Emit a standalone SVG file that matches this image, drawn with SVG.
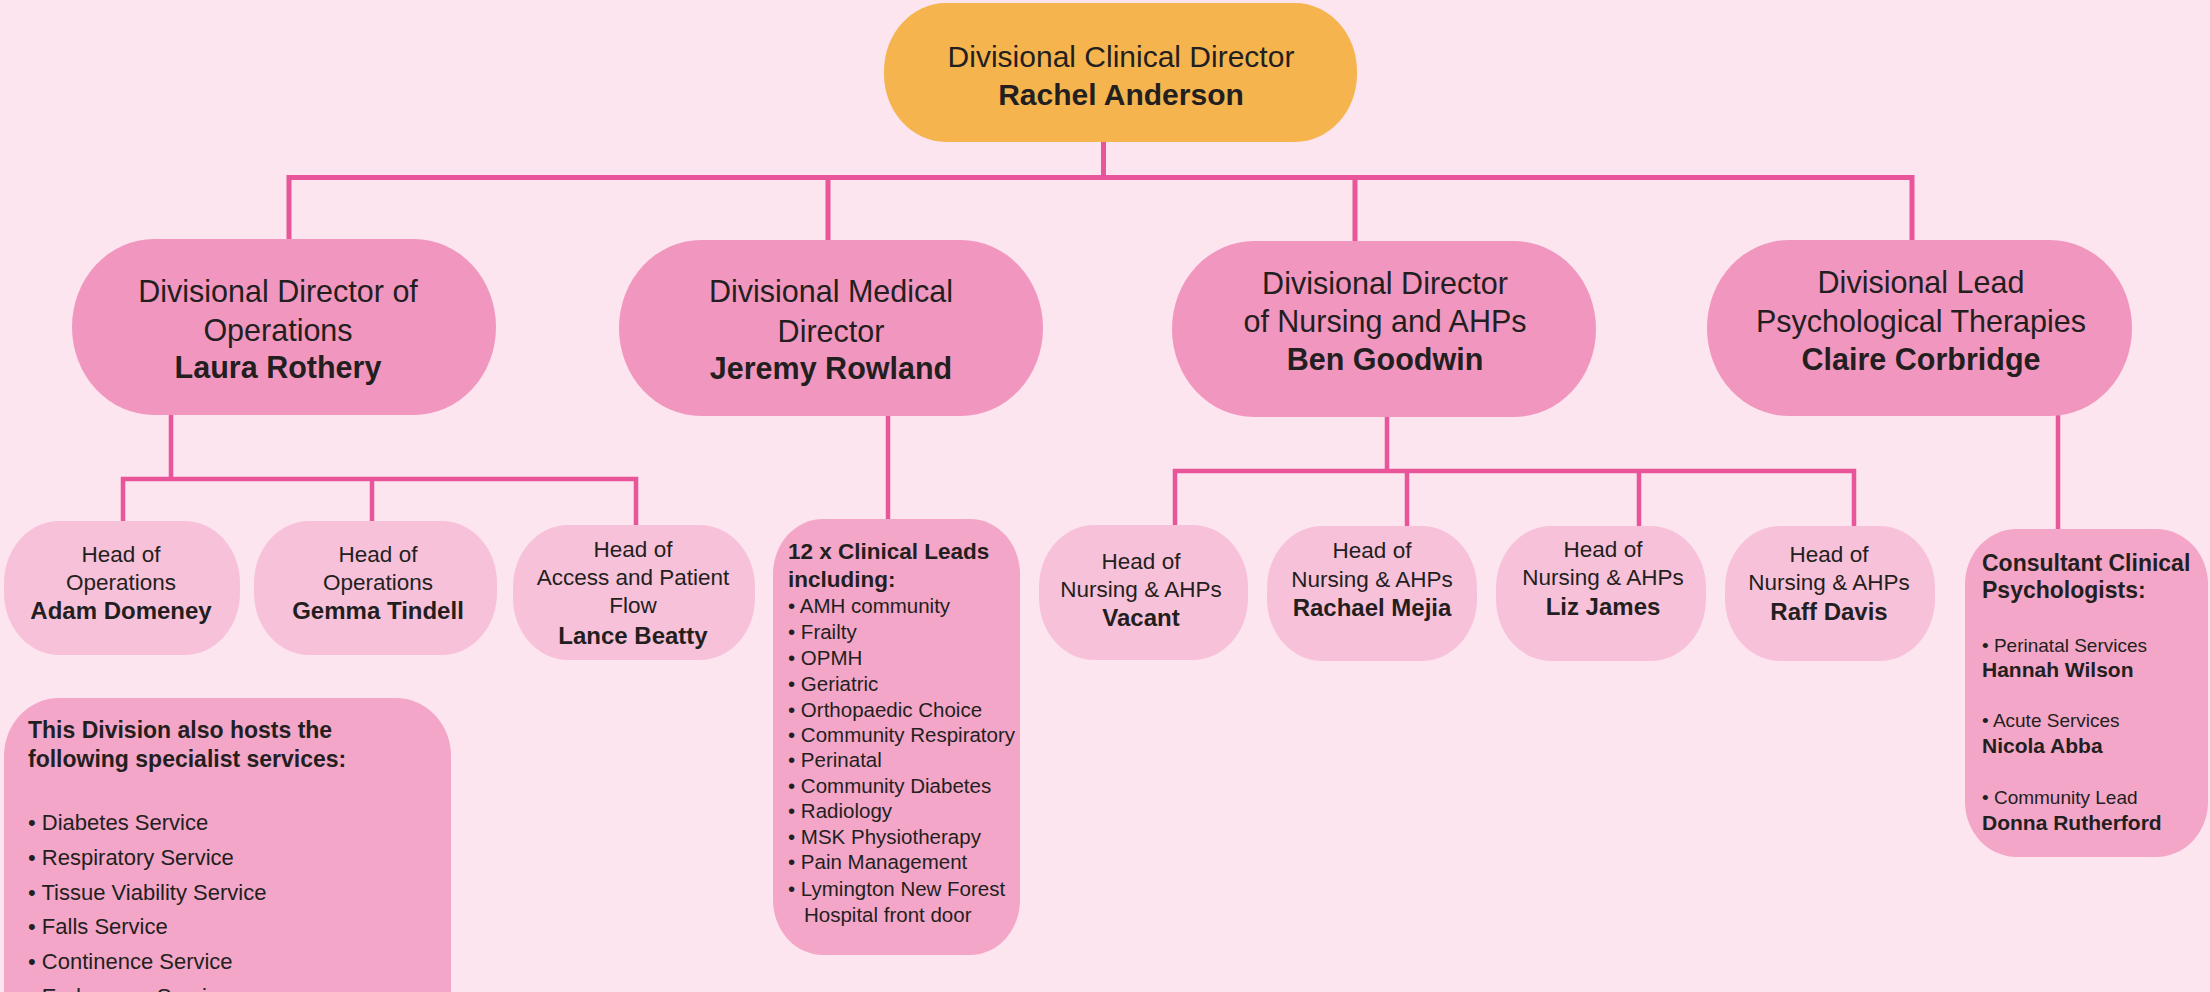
<svg xmlns="http://www.w3.org/2000/svg" width="2210" height="992" viewBox="0 0 2210 992">
<style>
text{font-family:"Liberation Sans",Arial,sans-serif;fill:#231f20}
.c{text-anchor:middle}
.b{font-weight:bold}
.t{font-size:30px}
.l2{font-size:30.5px}
.s{font-size:22.5px}
.sb{font-size:24px;font-weight:bold}
.li{font-size:20.5px}
.lh{font-size:22.5px;font-weight:bold}
.sp{font-size:22px}
.spb{font-size:23px;font-weight:bold}
.cb{font-size:19px}
.cn{font-size:21px;font-weight:bold}
.top{fill:#f5b44e}
.mid{fill:#f196bf}
.small{fill:#f8c1da}
.list{fill:#f3a6c8}
.conn{stroke:#e8559a;stroke-width:4.5;fill:none;stroke-linecap:square}
</style>
<rect x="0" y="0" width="2210" height="992" fill="#fce5ef"/>
<g id="connectors">
<path class="conn" style="stroke-width:5" d="M1103.5 142V177.5M289 177.5H1912M289 177.5V240M828 177.5V240M1355 177.5V241M1912 177.5V240"/>
<path class="conn" d="M171 415V479M123 479H636M123 479V521M372 479V521M636 479V525"/>
<path class="conn" d="M888 416V519"/>
<path class="conn" d="M1387 417V471M1175 471H1854M1175 471V525M1407 471V526M1639 471V526M1854 471V526"/>
<path class="conn" d="M2058 416V529"/>
</g>
<g id="n-rachel">
<rect class="top" x="884" y="3" width="473" height="139" rx="62" ry="68"/>
<text class="t c" x="1121" y="67">Divisional Clinical Director</text>
<text class="t c b" x="1121" y="105">Rachel Anderson</text>
</g>
<g id="n-laura">
<rect class="mid" x="72" y="239" width="424" height="176" rx="82" ry="88"/>
<text class="l2 c" x="278" y="302">Divisional Director of</text>
<text class="l2 c" x="278" y="341">Operations</text>
<text class="l2 c b" x="278" y="378">Laura Rothery</text>
</g>
<g id="n-jeremy">
<rect class="mid" x="619" y="240" width="424" height="176" rx="82" ry="88"/>
<text class="l2 c" x="831" y="302">Divisional Medical</text>
<text class="l2 c" x="831" y="342">Director</text>
<text class="l2 c b" x="831" y="379">Jeremy Rowland</text>
</g>
<g id="n-ben">
<rect class="mid" x="1172" y="241" width="424" height="176" rx="82" ry="88"/>
<text class="l2 c" x="1385" y="294">Divisional Director</text>
<text class="l2 c" x="1385" y="332">of Nursing and AHPs</text>
<text class="l2 c b" x="1385" y="370">Ben Goodwin</text>
</g>
<g id="n-claire">
<rect class="mid" x="1707" y="240" width="425" height="176" rx="82" ry="88"/>
<text class="l2 c" x="1921" y="293">Divisional Lead</text>
<text class="l2 c" x="1921" y="332">Psychological Therapies</text>
<text class="l2 c b" x="1921" y="370">Claire Corbridge</text>
</g>
<g id="n-adam">
<rect class="small" x="4" y="521" width="236" height="134" rx="55" ry="62"/>
<text class="s c" x="121" y="562">Head of</text>
<text class="s c" x="121" y="590">Operations</text>
<text class="sb c" x="121" y="619">Adam Domeney</text>
</g>
<g id="n-gemma">
<rect class="small" x="254" y="521" width="243" height="134" rx="55" ry="62"/>
<text class="s c" x="378" y="562">Head of</text>
<text class="s c" x="378" y="590">Operations</text>
<text class="sb c" x="378" y="619">Gemma Tindell</text>
</g>
<g id="n-lance">
<rect class="small" x="513" y="525" width="242" height="135" rx="55" ry="62"/>
<text class="s c" x="633" y="557">Head of</text>
<text class="s c" x="633" y="585">Access and Patient</text>
<text class="s c" x="633" y="613">Flow</text>
<text class="sb c" x="633" y="644">Lance Beatty</text>
</g>
<g id="n-specialist">
<rect class="list" x="4" y="698" width="447" height="360" rx="55" ry="58"/>
<text class="spb" x="28" y="738">This Division also hosts the</text>
<text class="spb" x="28" y="767">following specialist services:</text>
<text class="sp" x="28" y="830">• Diabetes Service</text>
<text class="sp" x="28" y="865">• Respiratory Service</text>
<text class="sp" x="28" y="900">• Tissue Viability Service</text>
<text class="sp" x="28" y="934">• Falls Service</text>
<text class="sp" x="28" y="969">• Continence Service</text>
<text class="sp" x="28" y="1004">• Endoscopy Service</text>
</g>
<g id="n-clinical-leads">
<rect class="list" x="773" y="519" width="247" height="436" rx="50" ry="55"/>
<text class="lh" x="788" y="559">12 x Clinical Leads</text>
<text class="lh" x="788" y="587">including:</text>
<text class="li" x="788" y="613">• AMH community</text>
<text class="li" x="788" y="639">• Frailty</text>
<text class="li" x="788" y="665">• OPMH</text>
<text class="li" x="788" y="691">• Geriatric</text>
<text class="li" x="788" y="717">• Orthopaedic Choice</text>
<text class="li" x="788" y="742">• Community Respiratory</text>
<text class="li" x="788" y="767">• Perinatal</text>
<text class="li" x="788" y="793">• Community Diabetes</text>
<text class="li" x="788" y="818">• Radiology</text>
<text class="li" x="788" y="844">• MSK Physiotherapy</text>
<text class="li" x="788" y="869">• Pain Management</text>
<text class="li" x="788" y="896">• Lymington New Forest</text>
<text class="li" x="804" y="922">Hospital front door</text>
</g>
<g id="n-vacant">
<rect class="small" x="1039" y="525" width="209" height="135" rx="55" ry="62"/>
<text class="s c" x="1141" y="569">Head of</text>
<text class="s c" x="1141" y="597">Nursing &amp; AHPs</text>
<text class="sb c" x="1141" y="626">Vacant</text>
</g>
<g id="n-rachael">
<rect class="small" x="1267" y="526" width="210" height="135" rx="55" ry="62"/>
<text class="s c" x="1372" y="558">Head of</text>
<text class="s c" x="1372" y="587">Nursing &amp; AHPs</text>
<text class="sb c" x="1372" y="616">Rachael Mejia</text>
</g>
<g id="n-liz">
<rect class="small" x="1496" y="526" width="210" height="135" rx="55" ry="62"/>
<text class="s c" x="1603" y="557">Head of</text>
<text class="s c" x="1603" y="585">Nursing &amp; AHPs</text>
<text class="sb c" x="1603" y="615">Liz James</text>
</g>
<g id="n-raff">
<rect class="small" x="1725" y="526" width="210" height="135" rx="55" ry="62"/>
<text class="s c" x="1829" y="562">Head of</text>
<text class="s c" x="1829" y="590">Nursing &amp; AHPs</text>
<text class="sb c" x="1829" y="620">Raff Davis</text>
</g>
<g id="n-consultant">
<rect class="list" x="1965" y="529" width="243" height="328" rx="52" ry="55"/>
<text class="spb" x="1982" y="571">Consultant Clinical</text>
<text class="spb" x="1982" y="598">Psychologists:</text>
<text class="cb" x="1982" y="652">• Perinatal Services</text>
<text class="cn" x="1982" y="677">Hannah Wilson</text>
<text class="cb" x="1982" y="727">• Acute Services</text>
<text class="cn" x="1982" y="753">Nicola Abba</text>
<text class="cb" x="1982" y="804">• Community Lead</text>
<text class="cn" x="1982" y="830">Donna Rutherford</text>
</g>
</svg>
